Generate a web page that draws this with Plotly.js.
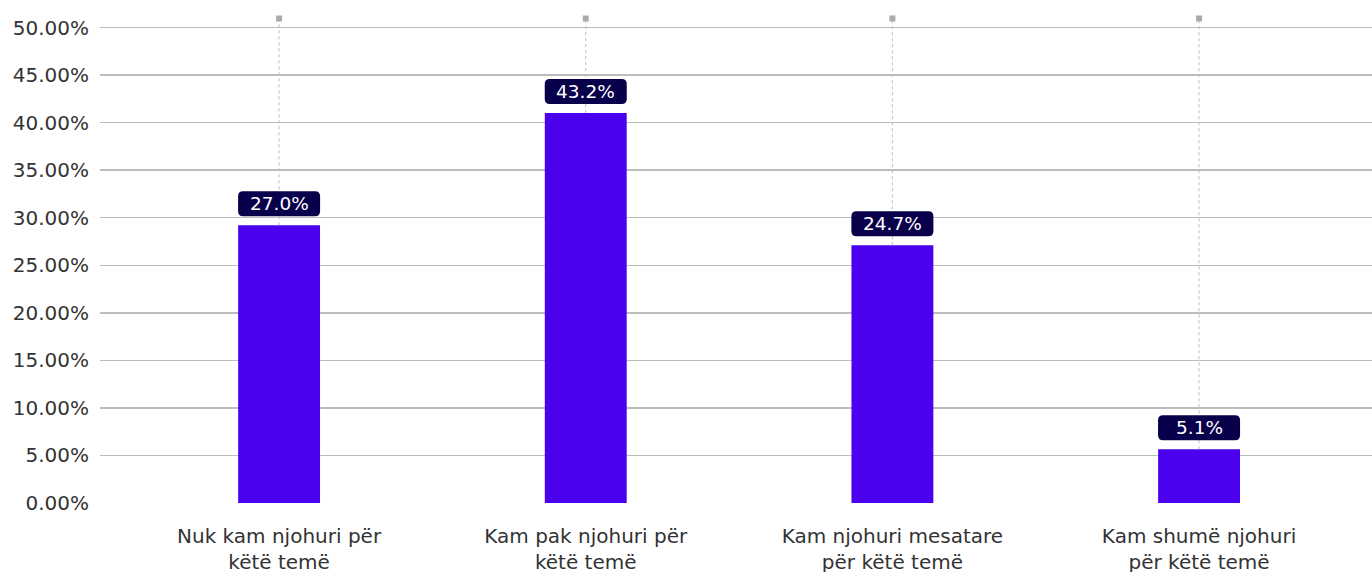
<!DOCTYPE html>
<html>
<head>
<meta charset="utf-8">
<script src="https://cdn.plot.ly/plotly-3.0.1.min.js"></script>
<style>html,body{margin:0;padding:0;background:#fff;}#chart{width:1372px;height:572px;}</style>
</head>
<body>
<div id="chart"></div>
<script>
const categories = [
  "Nuk kam njohuri për<br>këtë temë",
  "Kam pak njohuri për<br>këtë temë",
  "Kam njohuri mesatare<br>për këtë temë",
  "Kam shumë njohuri<br>për këtë temë"
];
const barValues = [29.2, 41.0, 27.1, 5.65];
const labelTexts = ["27.0%", "43.2%", "24.7%", "5.1%"];
const markerLevel = 50.95;
const yTickVals = [0, 5, 10, 15, 20, 25, 30, 35, 40, 45, 50];
const yTickLabels = ["0.00%", "5.00%", "10.00%", "15.00%", "20.00%", "25.00%", "30.00%", "35.00%", "40.00%", "45.00%", "50.00%"];

const xs = categories.map((c, i) => i);
const FONT = "DejaVu Sans, Open Sans, sans-serif";

const traces = [];
xs.forEach((x, i) => {
  traces.push({
    type: 'scatter', mode: 'lines', x: [x, x], y: [barValues[i], markerLevel],
    line: {color: '#bdbdbd', width: 1, dash: 'dot'}, cliponaxis: false,
    hoverinfo: 'skip', showlegend: false
  });
});
traces.push({
  type: 'bar', x: xs, y: barValues, width: 0.267,
  marker: {color: '#4b00ee', line: {width: 0}}, showlegend: false
});
traces.push({
  type: 'scatter', mode: 'markers', x: xs, y: xs.map(() => markerLevel),
  marker: {symbol: 'square', size: 6, color: '#aaaaaa'}, cliponaxis: false,
  hoverinfo: 'skip', showlegend: false
});

const boxPath = 'M -36,9 L 36,9 Q 41,9 41,14 L 41,29 Q 41,34 36,34 L -36,34 Q -41,34 -41,29 L -41,14 Q -41,9 -36,9 Z';
const shapes = xs.map((x, i) => ({
  type: 'path', xref: 'x', yref: 'y', xsizemode: 'pixel', ysizemode: 'pixel',
  xanchor: x, yanchor: barValues[i], path: boxPath,
  fillcolor: '#08004a', line: {width: 0}, layer: 'above'
}));
const annotations = xs.map((x, i) => ({
  x: x, y: barValues[i], xref: 'x', yref: 'y', text: labelTexts[i],
  showarrow: false, yshift: 21.5, xanchor: 'center', yanchor: 'middle',
  font: {family: FONT, size: 18.5, color: '#ffffff'}
}));

const layout = {
  width: 1372, height: 572,
  margin: {l: 100, r: 0, t: 18, b: 69, pad: 0},
  paper_bgcolor: '#ffffff', plot_bgcolor: '#ffffff',
  showlegend: false,
  font: {family: FONT, color: '#333333'},
  xaxis: {
    type: 'linear', range: [-0.584, 3.564], tickvals: xs, ticktext: categories,
    showgrid: false, zeroline: false, showline: false, ticks: '',
    tickfont: {family: FONT, size: 20, color: '#333333'}, ticklabelstandoff: 19,
    fixedrange: true
  },
  yaxis: {
    range: [0, 51], tickvals: yTickVals, ticktext: yTickLabels,
    showgrid: true, gridcolor: '#bdbdbd', gridwidth: 1.5, zeroline: false,
    showline: false, ticks: '', ticklabelstandoff: 10,
    tickfont: {family: FONT, size: 20, color: '#333333'}, fixedrange: true
  },
  shapes: shapes,
  annotations: annotations
};

Plotly.newPlot('chart', traces, layout, {displayModeBar: false, staticPlot: true});
</script>
</body>
</html>
